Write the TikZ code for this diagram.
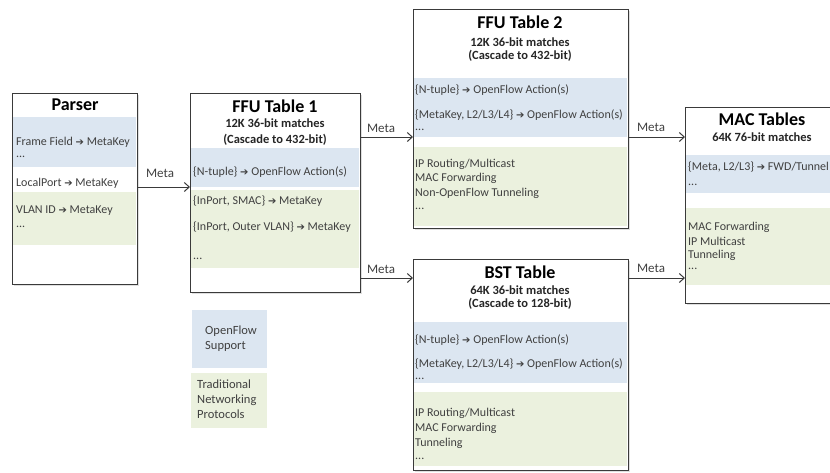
\documentclass[tikz,border=0pt]{standalone}
\usepackage{fontspec}
\setmainfont{Carlito}
\newfontfamily\arrowfont{DejaVu Sans}
\usetikzlibrary{arrows.meta,shadows}

\definecolor{ofblue}{HTML}{DCE6F1}
\definecolor{tradgreen}{HTML}{EBF1DE}
\definecolor{bodygray}{HTML}{404040}
\definecolor{framegray}{HTML}{3A3A3A}

% heavy arrow used inside the rule lines
\newcommand\maparrow{{\arrowfont\fontsize{10}{11}\selectfont\char"2794}}

\tikzset{
  tablebox/.style={draw=framegray, line width=1.3pt, fill=white, anchor=north west,
    drop shadow={opacity=0.25, shadow xshift=1.5pt, shadow yshift=-1.5pt}},
  boxtitle/.style={font=\fontsize{18}{20}\selectfont\bfseries, text=black, inner sep=0pt},
  boxsub/.style={font=\fontsize{12.5}{14}\selectfont\bfseries, text=black!85, inner sep=0pt},
  rule/.style={font=\fontsize{12}{14}\selectfont, text=bodygray, anchor=west, inner sep=0pt},
  metalabel/.style={font=\fontsize{13}{15}\selectfont, text=bodygray, inner sep=0pt},
  flow/.style={draw=framegray, line width=1pt, -{Straight Barb[length=5pt,width=9pt,line width=1pt]}},
}

\begin{document}
\begin{tikzpicture}[x=1pt,y=-1pt]
\useasboundingbox (0,0) rectangle (830,472);
\clip (0,0) rectangle (830,472);

% ---------- table boxes ----------
\node[tablebox, minimum width=125pt, minimum height=191pt] (parser) at (12,93) {};
\node[tablebox, minimum width=170pt, minimum height=199pt] (ffu1) at (190,93) {};
\node[tablebox, minimum width=215pt, minimum height=219pt] (ffu2) at (413,9) {};
\node[tablebox, minimum width=215pt, minimum height=211pt] (bst) at (413,259) {};
\node[tablebox, minimum width=165pt, minimum height=196pt] (mac) at (685,107) {};

% ---------- colour bands ----------
\fill[ofblue]    (12.7,117) rectangle (136.3,167);
\fill[tradgreen] (12.7,192) rectangle (136.3,245);
\fill[ofblue]    (190.7,148) rectangle (359.3,187);
\fill[tradgreen] (190.7,190) rectangle (359.3,268);
\fill[ofblue]    (413.7,78) rectangle (627.3,137);
\fill[tradgreen] (413.7,147) rectangle (627.3,226);
\fill[ofblue]    (413.7,322) rectangle (627.3,383);
\fill[tradgreen] (413.7,392) rectangle (627.3,466);
\fill[ofblue]    (685.7,155) rectangle (849,193);
\fill[tradgreen] (685.7,208) rectangle (849,285);

% ---------- Parser ----------
\node[boxtitle] (parsertitle) at (75,105) {Parser};
\node[rule] (p1) at (16,142) {Frame Field \maparrow\ MetaKey};
\node[rule] (p2) at (16,157) {...};
\node[rule] (p3) at (16,183) {LocalPort \maparrow\ MetaKey};
\node[rule] (p4) at (16,211) {VLAN ID \maparrow\ MetaKey};
\node[rule] (p5) at (16,227) {...};

% ---------- FFU Table 1 ----------
\node[boxtitle] (f1title) at (275,106) {FFU Table 1};
\node[boxsub] (f1sub1) at (275,123) {12K 36-bit matches};
\node[boxsub] (f1sub2) at (275,140) {(Cascade to 432-bit)};
\node[rule] (f1r1) at (193,172) {\{N-tuple\} \maparrow\ OpenFlow Action(s)};
\node[rule] (f1r2) at (193,201) {\{InPort, SMAC\} \maparrow\ MetaKey};
\node[rule] (f1r3) at (193,227) {\{InPort, Outer VLAN\} \maparrow\ MetaKey};
\node[rule] (f1r4) at (193,259) {...};

% ---------- FFU Table 2 ----------
\node[boxtitle] (f2title) at (520,22) {FFU Table 2};
\node[boxsub] (f2sub1) at (520,42) {12K 36-bit matches};
\node[boxsub] (f2sub2) at (520,56) {(Cascade to 432-bit)};
\node[rule] (f2r1) at (415,90) {\{N-tuple\} \maparrow\ OpenFlow Action(s)};
\node[rule] (f2r2) at (415,115) {\{MetaKey, L2/L3/L4\} \maparrow\ OpenFlow Action(s)};
\node[rule] (f2r3) at (415,130) {...};
\node[rule] (f2g1) at (415,164) {IP Routing/Multicast};
\node[rule] (f2g2) at (415,178) {MAC Forwarding};
\node[rule] (f2g3) at (415,193) {Non-OpenFlow Tunneling};
\node[rule] (f2g4) at (415,209) {...};

% ---------- BST Table ----------
\node[boxtitle] (btitle) at (520,272) {BST Table};
\node[boxsub] (bsub1) at (520,290) {64K 36-bit matches};
\node[boxsub] (bsub2) at (520,304) {(Cascade to 128-bit)};
\node[rule] (br1) at (415,340) {\{N-tuple\} \maparrow\ OpenFlow Action(s)};
\node[rule] (br2) at (415,364) {\{MetaKey, L2/L3/L4\} \maparrow\ OpenFlow Action(s)};
\node[rule] (br3) at (415,379) {...};
\node[rule] (bg1) at (415,413) {IP Routing/Multicast};
\node[rule] (bg2) at (415,428) {MAC Forwarding};
\node[rule] (bg3) at (415,443) {Tunneling};
\node[rule] (bg4) at (415,459) {...};

% ---------- MAC Tables ----------
\node[boxtitle] (mtitle) at (762,119) {MAC Tables};
\node[boxsub] (msub1) at (762,137) {64K 76-bit matches};
\node[rule] (mr1) at (688,167) {\{Meta, L2/L3\} \maparrow\ FWD/Tunnel};
\node[rule] (mr2) at (688,185) {...};
\node[rule] (mg1) at (688,227) {MAC Forwarding};
\node[rule] (mg2) at (688,241) {IP Multicast};
\node[rule] (mg3) at (688,255) {Tunneling};
\node[rule] (mg4) at (688,269) {...};

% ---------- connectors ----------
\coordinate (lvl0) at (0,187);
\coordinate (lvl1) at (0,137);
\coordinate (lvl2) at (0,278);
\draw[flow] (parser.east |- lvl0) -- (ffu1.west |- lvl0);
\draw[flow] (ffu1.east |- lvl1) -- (ffu2.west |- lvl1);
\draw[flow] (ffu1.east |- lvl2) -- (bst.west |- lvl2);
\draw[flow] (ffu2.east |- lvl1) -- (mac.west |- lvl1);
\draw[flow] (bst.east |- lvl2) -- (mac.west |- lvl2);
\node[metalabel] (m0) at (160,173) {Meta};
\node[metalabel] (m1) at (381,128) {Meta};
\node[metalabel] (m2) at (381,269) {Meta};
\node[metalabel] (m3) at (651,127) {Meta};
\node[metalabel] (m4) at (651,268) {Meta};

% ---------- legend ----------
\node[fill=ofblue, minimum width=75pt, minimum height=58pt, anchor=north west] (legof) at (192,310) {};
\node[fill=tradgreen, minimum width=76pt, minimum height=55pt, anchor=north west] (legtrad) at (191,373) {};
\node[rule, font=\fontsize{12.5}{15}\selectfont, align=left] (legoftext) at (205,339) {OpenFlow\\Support};
\node[rule, font=\fontsize{12.5}{15}\selectfont, align=left] (legtradtext) at (197,399) {Traditional\\Networking\\Protocols};
\end{tikzpicture}
\end{document}
